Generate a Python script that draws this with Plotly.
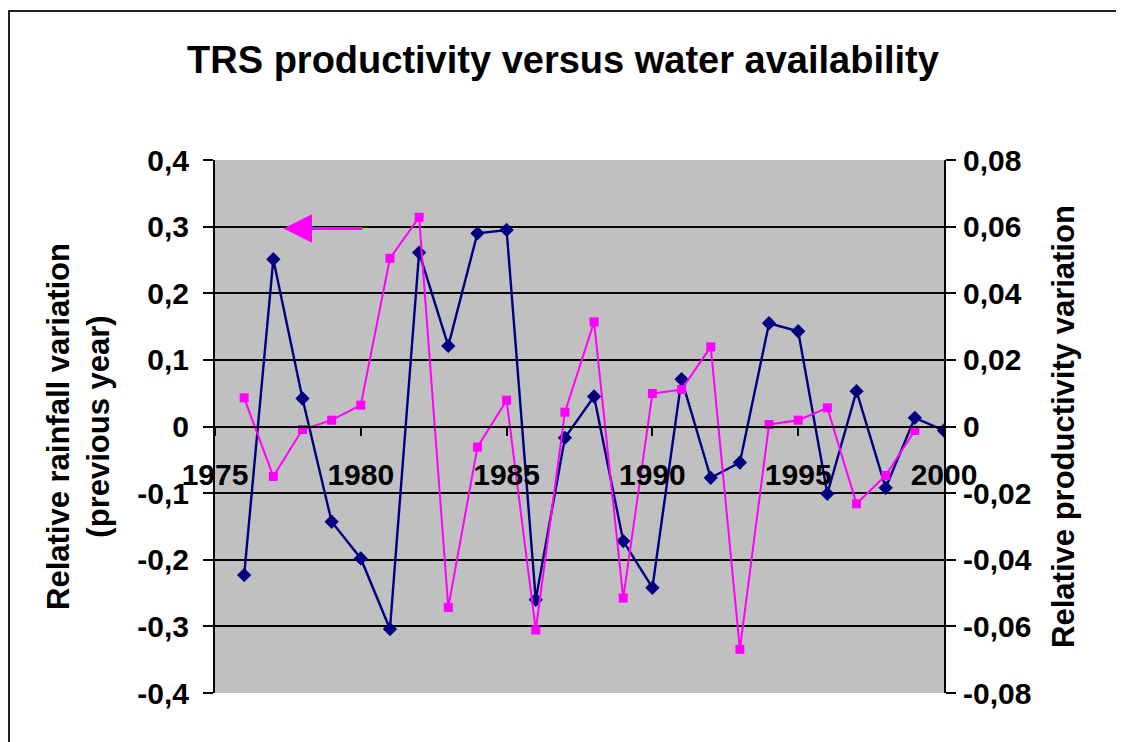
import plotly.graph_objects as go

# ---- data ----
rain_years = list(range(1976, 2001))
rainfall_var = [-0.223, 0.251, 0.042, -0.143, -0.198, -0.304, 0.261, 0.121, 0.290, 0.295,
                -0.260, -0.017, 0.045, -0.172, -0.242, 0.071, -0.077, -0.054, 0.155, 0.143,
                -0.101, 0.053, -0.092, 0.013, -0.006]

prod_years = list(range(1976, 2000))
productivity_var = [0.0086, -0.0150, -0.0009, 0.0019, 0.0064, 0.0505, 0.0628, -0.0543, -0.0062, 0.0079,
                    -0.0611, 0.0043, 0.0314, -0.0515, 0.0099, 0.0111, 0.0239, -0.0669, 0.0006, 0.0019,
                    0.0056, -0.0232, -0.0147, -0.0012]

x_tickvals = [1975, 1980, 1985, 1990, 1995, 2000]
x_ticktext = ["1975", "1980", "1985", "1990", "1995", "2000"]
y_tickvals = [0.4, 0.3, 0.2, 0.1, 0, -0.1, -0.2, -0.3, -0.4]
y_ticktext = ["0,4", "0,3", "0,2", "0,1", "0", "-0,1", "-0,2", "-0,3", "-0,4"]
y2_tickvals = [0.08, 0.06, 0.04, 0.02, 0, -0.02, -0.04, -0.06, -0.08]
y2_ticktext = ["0,08", "0,06", "0,04", "0,02", "0", "-0,02", "-0,04", "-0,06", "-0,08"]

title_text = "TRS productivity versus water availability"
y_title = "Relative rainfall variation<br>(previous year)"
y2_title = "Relative productivity variation"

# arrow annotation (tip / tail in data units)
arrow_tip = (1977.35, 0.297)
arrow_tail = (1980.1, 0.297)

FONT = "Liberation Sans, Arial, sans-serif"
NAVY = "#000080"
MAGENTA = "#FF00FF"

# page body has an 8px margin; figure is sized/offset to compensate
W, H = 1116, 734
ML, MR, MT, MB = 207, 180, 152, 49
PW, PH = W - ML - MR, H - MT - MB

fig = go.Figure()
fig.add_trace(go.Scatter(
    x=rain_years, y=rainfall_var, mode="lines+markers", name="Rainfall",
    line=dict(color=NAVY, width=2.4),
    marker=dict(symbol="diamond", size=11, color=NAVY),
    yaxis="y", showlegend=False))
fig.add_trace(go.Scatter(
    x=prod_years, y=productivity_var, mode="lines+markers", name="Productivity",
    line=dict(color=MAGENTA, width=2),
    marker=dict(symbol="square", size=9, color=MAGENTA),
    yaxis="y2", showlegend=False))

tickfont = dict(family=FONT, size=30, color="black", weight="bold")
titlefont = dict(family=FONT, size=31, color="black", weight="bold")

fig.update_layout(
    width=W, height=H,
    margin=dict(l=ML, r=MR, t=MT, b=MB),
    paper_bgcolor="white",
    plot_bgcolor="#C0C0C0",
    title=dict(text=title_text, x=(563 - 8) / W, xanchor="center",
               y=1 - (60 - 8) / H, yanchor="middle",
               font=dict(family=FONT, size=38, color="black", weight="bold")),
    xaxis=dict(range=[1975, 2000], tickvals=x_tickvals, ticktext=x_ticktext,
               showgrid=False, zeroline=False, showline=True, linecolor="black", linewidth=2,
               ticks="outside", ticklen=8, tickwidth=2, tickcolor="black",
               anchor="free", position=0.5, tickfont=tickfont, ticklabelstandoff=13),
    yaxis=dict(range=[-0.4, 0.4], tickvals=y_tickvals, ticktext=y_ticktext,
               showgrid=True, gridcolor="black", gridwidth=2, zeroline=False,
               showline=True, linecolor="black", linewidth=2, mirror=False,
               ticks="outside", ticklen=10, tickwidth=2, tickcolor="black",
               tickfont=tickfont, ticklabelstandoff=8,
               title=dict(text=y_title, font=titlefont, standoff=18)),
    yaxis2=dict(range=[-0.08, 0.08], tickvals=y2_tickvals, ticktext=y2_ticktext,
                overlaying="y", side="right", showgrid=False, zeroline=False,
                showline=True, linecolor="black", linewidth=2,
                ticks="outside", ticklen=10, tickwidth=2, tickcolor="black",
                tickfont=tickfont, ticklabelstandoff=1,
                title=dict(text=y2_title, font=titlefont, standoff=22)),
    annotations=[dict(x=arrow_tip[0], y=arrow_tip[1], xref="x", yref="y",
                      ax=arrow_tail[0], ay=arrow_tail[1], axref="x", ayref="y",
                      showarrow=True, arrowhead=2, arrowsize=1.9, arrowwidth=3,
                      arrowcolor=MAGENTA, text="")],
    shapes=[dict(type="rect", xref="paper", yref="paper",
                 x0=(1 - ML) / PW, x1=(1109 - ML) / PW,
                 y0=-0.2, y1=(PH + MT - 3) / PH,
                 line=dict(color="#222222", width=2), layer="below")],
)

fig.write_html("out.html")
